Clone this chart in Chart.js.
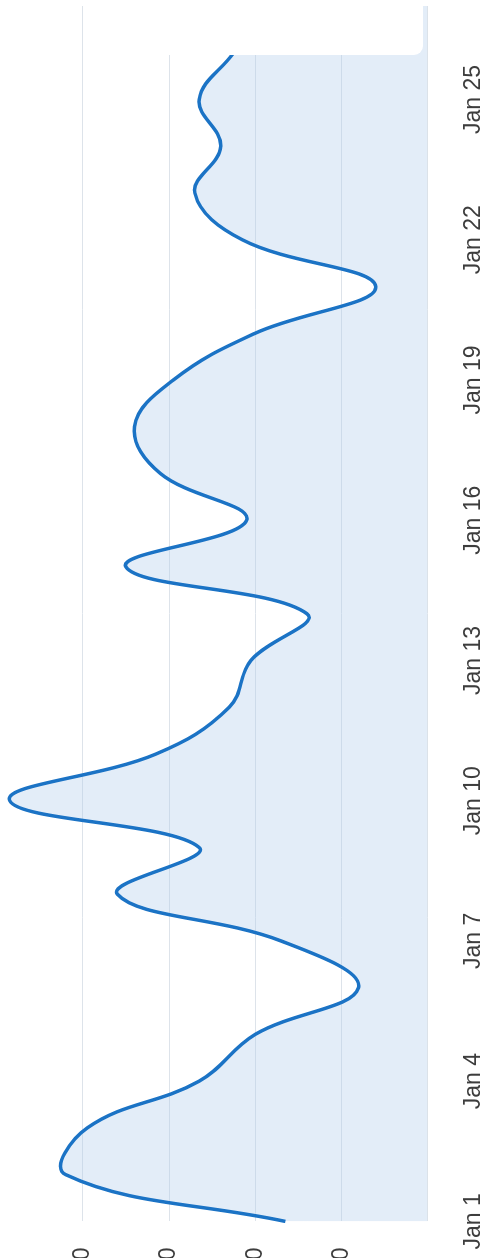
<!DOCTYPE html>
<html>
<head>
<meta charset="utf-8">
<script src="https://cdn.jsdelivr.net/npm/chart.js@4"></script>
<style>
  html, body { margin: 0; padding: 0; background: #fff; overflow: hidden; }
  body { width: 483px; height: 1258px; position: relative; }
  #wrap {
    position: absolute;
    left: -43px;
    top: 1299px;
    width: 1325px;
    height: 562px;
    transform-origin: 0 0;
    transform: rotate(-90deg);
  }
  #box {
    position: absolute;
    left: 150px;
    top: -10px;
    width: 273px;
    height: 65px;
    background: #fff;
    border-bottom-right-radius: 9px;
  }
</style>
</head>
<body>
<div id="wrap"><canvas id="chart" width="1325" height="562"></canvas></div>
<div id="box"></div>
<script>
const DAYS = [
  "Jan 1", "Jan 2", "Jan 3", "Jan 4", "Jan 5", "Jan 6", "Jan 7", "Jan 8", "Jan 9",
  "Jan 10", "Jan 11", "Jan 12", "Jan 13", "Jan 14", "Jan 15", "Jan 16", "Jan 17", "Jan 18",
  "Jan 19", "Jan 20", "Jan 21", "Jan 22", "Jan 23", "Jan 24", "Jan 25", "Jan 26", "Jan 27",
];
const VALUES = [
  33, 84, 79, 53, 40, 16, 34, 72, 53,
  97, 63, 46, 41, 28, 70, 42, 62, 68,
  59, 40, 12, 43, 54, 48, 53, 45, 38,
];
const Y_MIN = 0;
const Y_MAX = 100;
const Y_STEP = 20;

const FONT = { family: "'Liberation Sans', Arial, sans-serif", size: 23 };

new Chart(document.getElementById("chart"), {
  type: "line",
  data: {
    labels: DAYS,
    datasets: [{
      data: VALUES,
      borderColor: "#1b73c5",
      borderWidth: 3.5,
      backgroundColor: "rgba(178, 206, 236, 0.36)",
      fill: "origin",
      tension: 0.4,
      pointRadius: 0,
    }],
  },
  options: {
    responsive: false,
    animation: false,
    plugins: {
      legend: { display: false },
      tooltip: { enabled: false },
    },
    scales: {
      x: {
        border: { display: false },
        grid: { display: false, drawTicks: false },
        ticks: {
          autoSkip: false,
          maxRotation: 0,
          padding: 32,
          color: "#3d3d3d",
          font: FONT,
          callback: (v, i) => (i % 3 === 0 ? DAYS[i] : ""),
        },
      },
      y: {
        min: Y_MIN,
        max: Y_MAX,
        border: { display: false },
        grid: { color: "#dde3ea", drawTicks: false },
        ticks: {
          stepSize: Y_STEP,
          padding: 26,
          color: "#3d3d3d",
          font: FONT,
          // the outer ticks carry no label in the picture
          callback: v => (v === Y_MIN || v === Y_MAX ? "" : v),
        },
      },
    },
  },
});
</script>
</body>
</html>
